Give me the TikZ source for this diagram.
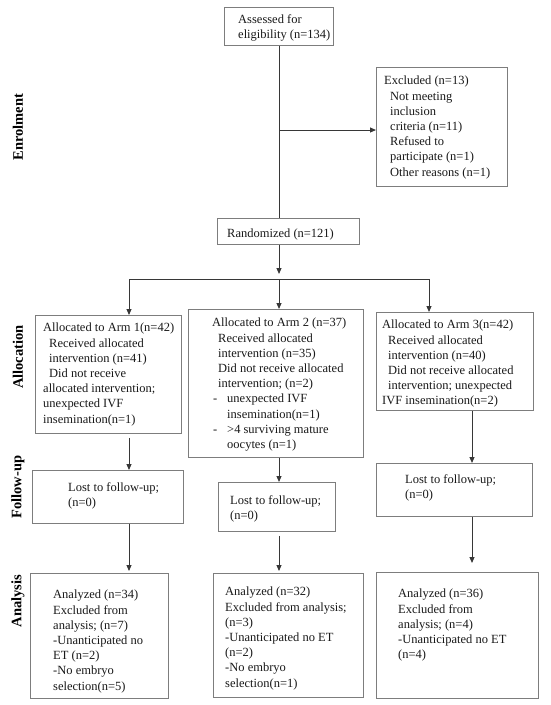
\documentclass[tikz,border=0pt]{standalone}
\usepackage{fontspec}
\setmainfont{Liberation Serif}
\usetikzlibrary{arrows.meta}
\definecolor{boxgray}{RGB}{125,125,125}
\definecolor{linegray}{RGB}{55,55,55}
\begin{document}
\begin{tikzpicture}[x=1pt,y=-1pt]
\tikzstyle{box} = [rectangle, draw=boxgray, line width=0.9pt, anchor=north west, inner sep=0pt]
\tikzstyle{txt} = [anchor=north west, align=left, inner sep=0pt, text=black!90, font=\fontsize{12.5}{15.2}\selectfont]
\tikzstyle{stage} = [rotate=90, font=\fontsize{14.5}{16}\selectfont\bfseries]
\tikzstyle{line} = [draw=linegray, line width=1pt]
\tikzstyle{arr} = [line, -{Triangle[length=6pt,width=5pt]}]
\useasboundingbox (0,0) rectangle (550,705);

\node[stage] (enrol) at (18,127) {Enrolment};
\node[stage] (alloc) at (18,357) {Allocation};
\node[stage] (follow) at (18,487) {Follow-up};
\node[stage] (anal) at (18,601) {Analysis};

\node[box, minimum width=109pt, minimum height=38pt] (assess) at (224,7) {};
\node[txt] (assessT) at (238,14) {Assessed for\\eligibility (n=134)};
\node[box, minimum width=131pt, minimum height=119pt] (excl) at (376,67) {};
\node[txt] (exclT) at (384,76) {Excluded (n=13)\\\hspace*{6pt}Not meeting\\\hspace*{6pt}inclusion\\\hspace*{6pt}criteria (n=11)\\\hspace*{6pt}Refused to\\\hspace*{6pt}participate (n=1)\\\hspace*{6pt}Other reasons (n=1)};
\node[box, minimum width=142pt, minimum height=26pt] (rand) at (217,218) {};
\node[txt] (randT) at (227,229) {Randomized (n=121)};

\node[box, minimum width=146pt, minimum height=118pt] (alloc1) at (35,315) {};
\node[txt] (alloc1T) at (43,323) {Allocated to Arm 1(n=42)\\\hspace*{6pt}Received allocated\\\hspace*{6pt}intervention (n=41)\\\hspace*{6pt}Did not receive\\allocated intervention;\\unexpected IVF\\insemination(n=1)};
\node[box, minimum width=175pt, minimum height=148pt] (alloc2) at (188,309) {};
\node[txt] (alloc2T) at (212,318) {Allocated to Arm 2 (n=37)\\\hspace*{6pt}Received allocated\\\hspace*{6pt}intervention (n=35)\\\hspace*{6pt}Did not receive allocated\\\hspace*{6pt}intervention; (n=2)\\\hspace*{1pt}\makebox[14pt][l]{-}unexpected IVF\\\hspace*{15pt}insemination(n=1)\\\hspace*{1pt}\makebox[14pt][l]{-}\textgreater4 surviving mature\\\hspace*{15pt}oocytes (n=1)};
\node[box, minimum width=157pt, minimum height=98pt] (alloc3) at (376,312) {};
\node[txt] (alloc3T) at (382,320) {Allocated to Arm 3(n=42)\\\hspace*{6pt}Received allocated\\\hspace*{6pt}intervention (n=40)\\\hspace*{6pt}Did not receive allocated\\\hspace*{6pt}intervention; unexpected\\IVF insemination(n=2)};

\node[box, minimum width=151pt, minimum height=53pt] (lost1) at (32,470) {};
\node[txt] (lost1T) at (68,482) {Lost to follow-up;\\(n=0)};
\node[box, minimum width=117pt, minimum height=49pt] (lost2) at (218,482) {};
\node[txt] (lost2T) at (230,495) {Lost to follow-up;\\(n=0)};
\node[box, minimum width=156pt, minimum height=53pt] (lost3) at (376,463) {};
\node[txt] (lost3T) at (405,474) {Lost to follow-up;\\(n=0)};

\node[box, minimum width=138pt, minimum height=125pt] (ana1) at (30,573) {};
\node[txt] (ana1T) at (53,590) {Analyzed (n=34)\\Excluded from\\analysis; (n=7)\\-Unanticipated no\\ET (n=2)\\-No embryo\\selection(n=5)};
\node[box, minimum width=150pt, minimum height=124pt] (ana2) at (213,573) {};
\node[txt] (ana2T) at (225,587) {Analyzed (n=32)\\Excluded from analysis;\\(n=3)\\-Unanticipated no ET\\(n=2)\\-No embryo\\selection(n=1)};
\node[box, minimum width=162pt, minimum height=126pt] (ana3) at (376,572) {};
\node[txt] (ana3T) at (398,589) {Analyzed (n=36)\\Excluded from\\analysis; (n=4)\\-Unanticipated no ET\\(n=4)};

\coordinate (branch) at (279,130);
\coordinate (split) at (279,279);
\coordinate (c1) at (129,279);
\coordinate (c3) at (429,279);
\coordinate (c3b) at (472,279);

\draw[line] (assess.south -| split) -- (rand.north -| split);
\draw[arr] (branch) -- (branch -| excl.west);
\draw[arr, shorten >=5pt] (rand.south -| split) -- (split);
\draw[line] (c1) -- (c3);
\draw[arr] (c1) -- (c1 |- alloc1.north);
\draw[arr] (split) -- (split |- alloc2.north);
\draw[arr] (c3) -- (c3 |- alloc3.north);

\draw[arr, shorten <=4pt] (c1 |- alloc1.south) -- (c1 |- lost1.north);
\draw[arr, shorten >=2pt] (c1 |- lost1.south) -- (c1 |- ana1.north);
\draw[arr] (split |- alloc2.south) -- (split |- lost2.north);
\draw[arr, shorten <=4pt, shorten >=2pt] (split |- lost2.south) -- (split |- ana2.north);
\draw[arr] (c3b |- alloc3.south) -- (c3b |- lost3.north);
\draw[arr, shorten >=9pt] (c3b |- lost3.south) -- (c3b |- ana3.north);
\end{tikzpicture}
\end{document}
